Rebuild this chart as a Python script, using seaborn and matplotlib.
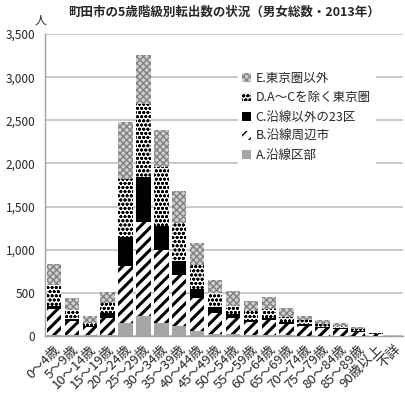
import seaborn as sns
import matplotlib.pyplot as plt
import matplotlib.patches as mpatches
import numpy as np

# age classes (5-year) and outflow counts by destination
ages = ["0～4歳", "5～9歳", "10～14歳", "15～19歳", "20～24歳", "25～29歳",
        "30～34歳", "35～39歳", "40～44歳", "45～49歳", "50～54歳", "55～59歳",
        "60～64歳", "65～69歳", "70～74歳", "75～79歳", "80～84歳", "85～89歳",
        "90歳以上", "不詳"]
a_vals = [12, 8, 8, 12, 146, 231, 154, 119, 58, 25, 19, 12, 8, 8, 4, 4, 4, 4, 3, 0]
b_vals = [296, 165, 100, 192, 661, 1088, 838, 585, 388, 246, 185, 150, 181, 135, 115, 88, 73, 46, 15, 0]
c_vals = [42, 19, 12, 58, 338, 519, 288, 165, 100, 65, 54, 27, 23, 19, 15, 12, 12, 8, 4, 0]
d_vals = [238, 115, 27, 123, 673, 854, 681, 442, 281, 158, 85, 100, 104, 58, 46, 38, 27, 23, 8, 0]
e_vals = [250, 138, 88, 127, 661, 562, 427, 373, 250, 160, 173, 115, 131, 104, 46, 38, 38, 23, 8, 0]
labels = ["A.沿線区部", "B.沿線周辺市", "C.沿線以外の23区", "D.A～Cを除く東京圏", "E.東京圏以外"]

sns.set_style("white")
plt.rcParams['font.family'] = ['Noto Sans CJK JP', 'DejaVu Sans']

# style per series: facecolor, hatch, hatch colour, hatch width
styles = [("#a6a6a6", None, "#a6a6a6", 1.0),
          ("white", "///", "black", 2.2),
          ("black", None, "black", 1.0),
          ("white", "oooo", "black", 0.9),
          ("#d0d0d0", "xxxxx", "#808080", 1.0)]

series = [a_vals, b_vals, c_vals, d_vals, e_vals]
cum = np.cumsum(np.array(series), axis=0)

fig = plt.figure(figsize=(4.06, 3.96), dpi=100)
ax = fig.add_axes([45/406, 60/396, 358/406, 302/396])

# draw from the total down so each lower stack covers the one above
for i in range(4, -1, -1):
    fc, hatch, hc, hw = styles[i]
    n_before = len(ax.patches)
    with plt.rc_context({'hatch.linewidth': hw}):
        sns.barplot(x=ages, y=cum[i], order=ages, color=fc, hatch=hatch,
                    edgecolor=hc, linewidth=0, width=0.8, ax=ax, zorder=3)
    for bar in ax.patches[n_before:]:
        bar.set_facecolor(fc)

ax.set_ylim(0, 3500)
ax.set_xlim(-0.5, len(ages) - 0.5)
ax.set_yticks(np.arange(0, 3501, 500))
ax.set_yticklabels([f"{v:,}" for v in range(0, 3501, 500)], fontsize=8.5)
ax.yaxis.grid(True, color="#c0c0c0", linewidth=1.2, zorder=0)
ax.set_axisbelow(True)
ax.tick_params(axis='y', length=4, color="#a0a0a0", pad=3)
ax.set_xticks(range(len(ages)))
ax.set_xticklabels(ages, rotation=45, ha='right', rotation_mode='anchor', fontsize=9.5)
ax.set_xticks(np.arange(-0.5, len(ages), 1), minor=True)
ax.tick_params(axis='x', which='major', length=0, pad=5)
ax.tick_params(axis='x', which='minor', length=4, color="#a0a0a0")
ax.set_xlabel("")
ax.set_ylabel("")
for s in ["top", "right"]:
    ax.spines[s].set_visible(False)
for s in ["left", "bottom"]:
    ax.spines[s].set_color("#a0a0a0")
    ax.spines[s].set_linewidth(1.0)

fig.text(224/406, 1 - 12/396, "町田市の5歳階級別転出数の状況（男女総数・2013年）",
         ha='center', va='center', fontsize=9, fontweight='bold')
fig.text(40/406, 1 - 20/396, "人", ha='center', va='center', fontsize=8.5)

handles = []
for i in range(4, -1, -1):
    fc, hatch, hc, hw = styles[i]
    with plt.rc_context({'hatch.linewidth': hw}):
        p = mpatches.Patch(facecolor=fc, hatch=hatch, edgecolor=hc,
                           linewidth=0, label=labels[i])
    handles.append(p)
leg = ax.legend(handles=handles, loc='upper left',
                bbox_to_anchor=(232/406, 1 - 62/396), bbox_transform=fig.transFigure,
                fontsize=9, frameon=True, framealpha=1, facecolor='white',
                edgecolor='white', fancybox=False, handlelength=0.7, handleheight=0.7,
                handletextpad=0.4, labelspacing=0.5, borderpad=0.3)

plt.savefig("out.png", dpi=100)
